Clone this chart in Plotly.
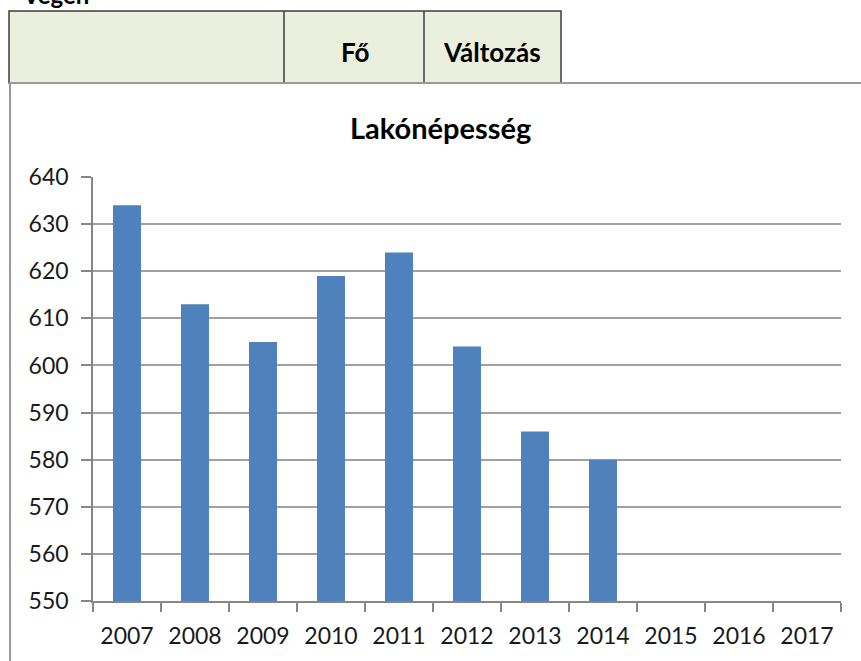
import plotly.graph_objects as go

years = ["2007", "2008", "2009", "2010", "2011", "2012", "2013", "2014", "2015", "2016", "2017"]
population = [634, 613, 605, 619, 624, 604, 586, 580, None, None, None]
title_text = "Lakónépesség"
header_cells = ["", "Fő", "Változás"]
top_text = "Végén"

W, H = 861, 661
def px(x):
    return x / W
def py(y):
    return 1 - y / H

FONT = "Lato"
fig = go.Figure()
fig.add_trace(go.Bar(
    x=years, y=population,
    marker=dict(color="#4F81BD", line=dict(width=0)),
    hoverinfo="x+y",
))

shapes = []
# table header
shapes.append(dict(type="rect", xref="paper", yref="paper",
                   x0=px(9), x1=px(561), y0=py(83), y1=py(11),
                   fillcolor="#EBF0DE", line=dict(color="#3C3C3C", width=1.5), layer="below"))
for xd in (284, 424):
    shapes.append(dict(type="line", xref="paper", yref="paper",
                       x0=px(xd), x1=px(xd), y0=py(83), y1=py(11),
                       line=dict(color="#3C3C3C", width=1.5)))
# chart border lines
shapes.append(dict(type="line", xref="paper", yref="paper",
                   x0=px(9), x1=px(861), y0=py(83), y1=py(83),
                   line=dict(color="#9A9A9A", width=2)))
shapes.append(dict(type="line", xref="paper", yref="paper",
                   x0=px(10), x1=px(10), y0=py(83), y1=py(661),
                   line=dict(color="#9A9A9A", width=2)))

annotations = [
    dict(text="<b>" + top_text + "</b>", xref="paper", yref="paper",
         x=px(20), y=py(-5), xanchor="left", yanchor="middle", showarrow=False,
         font=dict(family=FONT, size=24, color="#000000")),
    dict(text="<b>" + header_cells[1] + "</b>", xref="paper", yref="paper",
         x=px(355), y=py(52), xanchor="center", yanchor="middle", showarrow=False,
         font=dict(family=FONT, size=26, color="#000000")),
    dict(text="<b>" + header_cells[2] + "</b>", xref="paper", yref="paper",
         x=px(492), y=py(52), xanchor="center", yanchor="middle", showarrow=False,
         font=dict(family=FONT, size=26, color="#000000")),
    dict(text="<b>" + title_text + "</b>", xref="paper", yref="paper",
         x=px(440), y=py(127), xanchor="center", yanchor="middle", showarrow=False,
         font=dict(family=FONT, size=29, color="#000000")),
]

fig.update_layout(
    width=W, height=H,
    autosize=False,
    margin=dict(l=0, r=0, t=0, b=0, pad=0, autoexpand=False),
    paper_bgcolor="white", plot_bgcolor="white",
    showlegend=False,
    bargap=0.588,
    shapes=shapes,
    annotations=annotations,
    font=dict(family=FONT, color="#222222"),
    xaxis=dict(
        domain=[px(93), px(841)],
        type="category",
        categoryorder="array", categoryarray=years,
        showgrid=False,
        showline=True, linecolor="#868686", linewidth=1.5,
        ticks="outside", tickson="boundaries", ticklen=9, tickwidth=1.5, tickcolor="#868686",
        tickfont=dict(family=FONT, size=23, color="#1A1A1A"),
        ticklabelstandoff=14,
        automargin=False,
        fixedrange=True,
    ),
    yaxis=dict(
        domain=[py(601), py(177)],
        range=[550, 640], dtick=10, tick0=550,
        showgrid=True, gridcolor="#A0A0A0", gridwidth=1.5,
        showline=True, linecolor="#868686", linewidth=1.5,
        ticks="outside", ticklen=10, tickwidth=1.5, tickcolor="#868686",
        tickfont=dict(family=FONT, size=23, color="#1A1A1A"),
        ticklabelstandoff=8,
        zeroline=False,
        automargin=False,
        fixedrange=True,
    ),
)

fig.write_html("out.html",
               config={"displayModeBar": False},
               post_script="document.body.style.margin='0';document.body.style.overflow='hidden';")
